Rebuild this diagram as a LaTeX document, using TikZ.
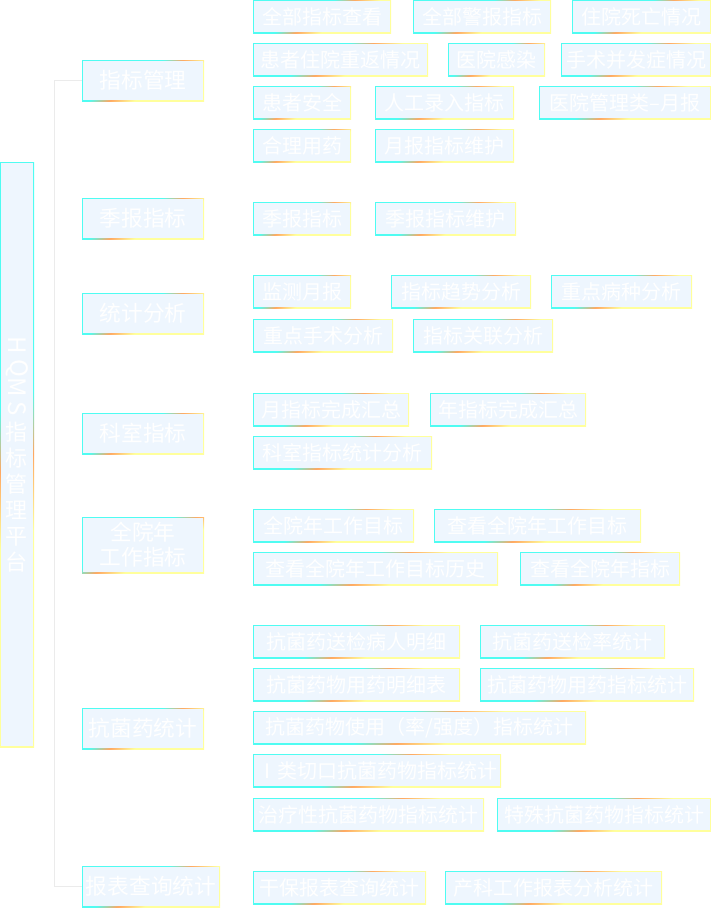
\documentclass[tikz,border=0pt]{standalone}
\usepackage{fontspec}
\setmainfont{Noto Sans CJK SC}
\usepackage{graphicx}
\usetikzlibrary{calc}
\definecolor{bc}{HTML}{4FFCF2}
\definecolor{bo}{HTML}{FFA862}
\definecolor{by}{HTML}{FFFF9C}
\definecolor{bf}{HTML}{EEF6FE}
\definecolor{lc}{HTML}{EBEBEB}
\pgfdeclarehorizontalshading{gbord}{100bp}{color(0bp)=(bc); color(47.9bp)=(bc); color(50.3bp)=(bo); color(53.2bp)=(by); color(100bp)=(by)}
\newcommand\gbx[7][lvb]{\node[#1,minimum width={#5pt-#3pt},minimum height={#6pt-#4pt}] (#2) at ({(#3+#5)/2},{(#4+#6)/2}) {#7};}
\newcommand\rotl[1]{\rotatebox[origin=c]{-90}{\fontsize{24}{26}\selectfont #1}}
\tikzset{
  gbox/.style={fill=bf, inner sep=0pt, text=white,
    path picture={
      \path[shade, shading=gbord, shading angle=-61]
        let \p1=(path picture bounding box.south west),
            \p2=(path picture bounding box.north east),
            \n1={2.2*(0.485*(\x2-\x1)+0.875*(\y2-\y1))} in
        (path picture bounding box.center) ++(-0.5*\n1,-0.5*\n1) rectangle ++(\n1,\n1);
      \fill[bf] ([shift={(1.2pt,1.2pt)}]path picture bounding box.south west)
        rectangle ([shift={(-1.2pt,-1.2pt)}]path picture bounding box.north east);
    }},
  lva/.style={gbox, font=\fontsize{21.7}{25}\selectfont, align=center},
  lvb/.style={gbox, font=\fontsize{20}{24}\selectfont},
  rootbox/.style={gbox, font=\fontsize{22}{26}\selectfont, align=center},
  conn/.style={draw=lc, line width=1.2pt}
}
\begin{document}
\begin{tikzpicture}[x=1pt,y=-1pt]
\useasboundingbox (0,0) rectangle (711,908);
% root
\gbx[rootbox]{r}{0}{162}{34}{747}{\rotl{H}\\[-5pt]\rotl{Q}\\[-5pt]\rotl{M}\\[-5pt]\rotl{S}\\[-2.5pt]指\\标\\管\\理\\平\\台}
% level 1
\gbx[lva]{a1}{82}{60}{204}{101}{指标管理}
\gbx[lva]{a2}{82}{198}{204}{239}{季报指标}
\gbx[lva]{a3}{82}{293}{204}{334}{统计分析}
\gbx[lva]{a4}{82}{413}{204}{454}{科室指标}
\gbx[lva]{a5}{82}{517}{204}{573}{全院年\\工作指标}
\gbx[lva]{a6}{82}{708}{204}{749}{抗菌药统计}
\gbx[lva]{a7}{82}{866}{220}{907}{报表查询统计}
% level 2
\gbx{b1}{253}{0}{391}{33}{全部指标查看}
\gbx{b2}{413}{0}{551}{33}{全部警报指标}
\gbx{b3}{572}{0}{711}{33}{住院死亡情况}
\gbx{b4}{253}{43}{428}{76}{患者住院重返情况}
\gbx{b5}{448}{43}{545}{76}{医院感染}
\gbx{b6}{561}{43}{711}{76}{手术并发症情况}
\gbx{b7}{253}{86}{351}{119}{患者安全}
\gbx{b8}{375}{86}{514}{119}{人工录入指标}
\gbx{b9}{539}{86}{711}{119}{医院管理类–月报}
\gbx{b10}{253}{129}{351}{162}{合理用药}
\gbx{b11}{375}{129}{514}{162}{月报指标维护}
\gbx{c1}{253}{202}{351}{235}{季报指标}
\gbx{c2}{375}{202}{516}{235}{季报指标维护}
\gbx{d1}{253}{275}{351}{308}{监测月报}
\gbx{d2}{391}{275}{531}{308}{指标趋势分析}
\gbx{d3}{551}{275}{692}{308}{重点病种分析}
\gbx{d4}{253}{319}{393}{352}{重点手术分析}
\gbx{d5}{413}{319}{553}{352}{指标关联分析}
\gbx{e1}{253}{393}{409}{426}{月指标完成汇总}
\gbx{e2}{430}{393}{586}{426}{年指标完成汇总}
\gbx{e3}{253}{436}{432}{469}{科室指标统计分析}
\gbx{f1}{253}{509}{414}{542}{全院年工作目标}
\gbx{f2}{434}{509}{641}{542}{查看全院年工作目标}
\gbx{f3}{253}{552}{498}{585}{查看全院年工作目标历史}
\gbx{f4}{520}{552}{680}{585}{查看全院年指标}
\gbx{g1}{253}{625}{460}{658}{抗菌药送检病人明细}
\gbx{g2}{480}{625}{665}{658}{抗菌药送检率统计}
\gbx{g3}{253}{668}{460}{701}{抗菌药物用药明细表}
\gbx{g4}{480}{668}{694}{701}{抗菌药物用药指标统计}
\gbx{g5}{253}{711}{586}{744}{抗菌药物使用（率/强度）指标统计}
\gbx{g6}{253}{754}{501}{787}{Ⅰ类切口抗菌药物指标统计}
\gbx{g7}{253}{798}{484}{831}{治疗性抗菌药物指标统计}
\gbx{g8}{497}{798}{711}{831}{特殊抗菌药物指标统计}
\gbx{h1}{253}{871}{426}{904}{干保报表查询统计}
\gbx{h2}{445}{871}{662}{904}{产科工作报表分析统计}
% connector
\coordinate (lx) at (54.5,0);
\draw[conn] (a1.west) -- (a1.west -| lx) |- (a7.west);
\end{tikzpicture}
\end{document}
